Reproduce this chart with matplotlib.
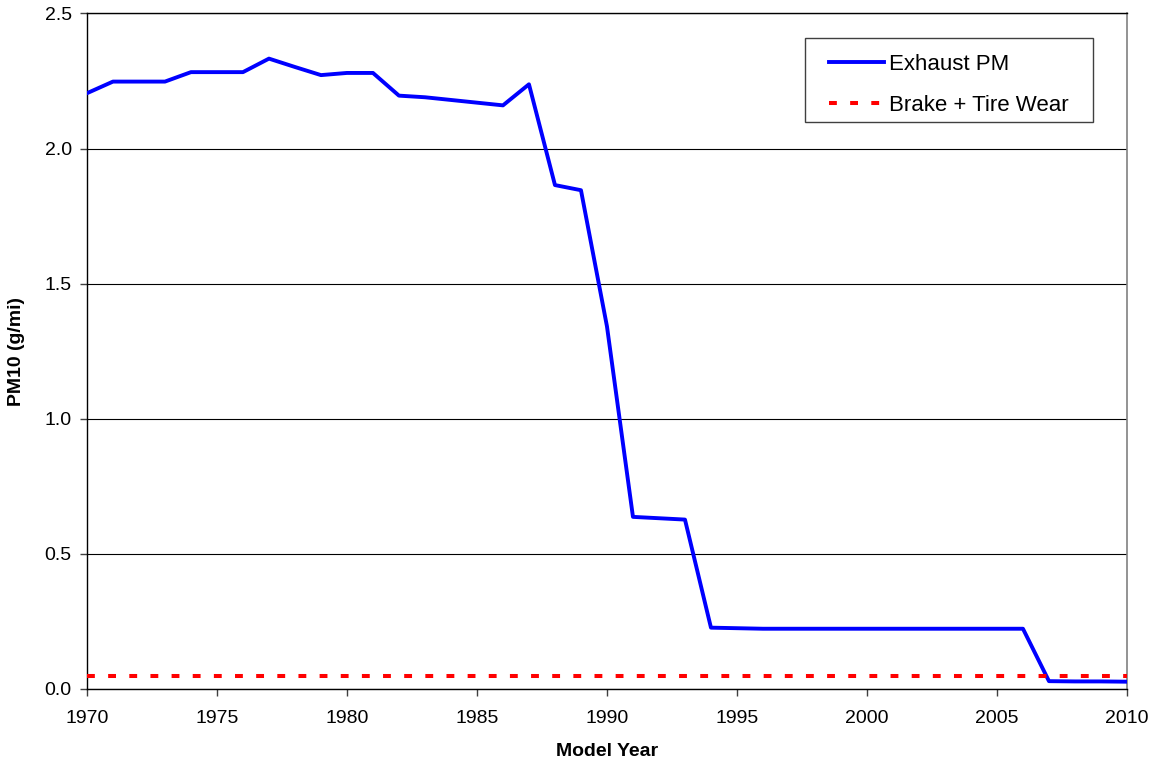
import numpy as np
import matplotlib
matplotlib.use("Agg")
import matplotlib.pyplot as plt
from matplotlib.patches import Rectangle
from matplotlib.ticker import FormatStrFormatter, MultipleLocator

plt.rcParams['font.family'] = ['Liberation Sans', 'DejaVu Sans']

# model years and emission rates
years = list(range(1970, 2011))
exhaust_pm = [2.205, 2.248, 2.248, 2.248, 2.283, 2.283, 2.283, 2.333, 2.302, 2.272,
              2.280, 2.280, 2.196, 2.190, 2.180, 2.170, 2.160, 2.238, 1.865, 1.846,
              1.342, 0.637, 0.632, 0.627, 0.227, 0.225, 0.223, 0.223, 0.223, 0.223,
              0.223, 0.223, 0.223, 0.223, 0.223, 0.223, 0.223, 0.029, 0.028, 0.028,
              0.027]
brake_tire = [0.049] * len(years)

fig = plt.figure(figsize=(11.58, 7.67), dpi=100)
ax = fig.add_axes([0.0751, 0.1017, 0.8981, 0.8807])

ax.plot(years, exhaust_pm, color='#0000ff', lw=2.8, label='Exhaust PM', zorder=3)
ax.plot(years, brake_tire, color='#ff0000', lw=2.9, ls=(0, (1.95, 3.3)),
        label='Brake + Tire Wear', zorder=3)

ax.set_xlim(1970, 2010)
ax.set_ylim(0, 2.5)
ax.xaxis.set_major_locator(MultipleLocator(5))
ax.yaxis.set_major_locator(MultipleLocator(0.5))
ax.yaxis.set_major_formatter(FormatStrFormatter('%.1f'))

ax.grid(axis='y', color='black', lw=0.8)
ax.set_axisbelow(True)
for side in ['left', 'bottom', 'top']:
    ax.spines[side].set_color('black')
    ax.spines[side].set_linewidth(1.0)
ax.spines['right'].set_color('#808080')
ax.spines['right'].set_linewidth(1.2)

ax.tick_params(axis='both', direction='out', length=5, width=1.0, color='#404040',
               labelsize=14, pad=6)
ax.tick_params(axis='x', pad=10)

ax.set_xlabel('Model Year', fontsize=14, fontweight='bold', labelpad=12)
ax.set_ylabel('PM10 (g/mi)', fontsize=14, fontweight='bold', labelpad=14)

# legend without its own frame; frame drawn afterwards with Excel-style padding
leg = ax.legend(loc='upper right', bbox_to_anchor=(0.9548, 0.9563), fontsize=16,
                frameon=False, handlelength=2.5, handletextpad=0.22,
                labelspacing=0.88, borderpad=0.5, borderaxespad=0)
fig.canvas.draw()
bb = leg.get_window_extent()
dx, dy = 13, 5
fig.add_artist(Rectangle((bb.x0 - dx, bb.y0 + dy), bb.width + 2 * dx, bb.height,
                         transform=None, fill=False, ec='#404040', lw=1.0, zorder=5))

fig.savefig('out.png', dpi=100)
